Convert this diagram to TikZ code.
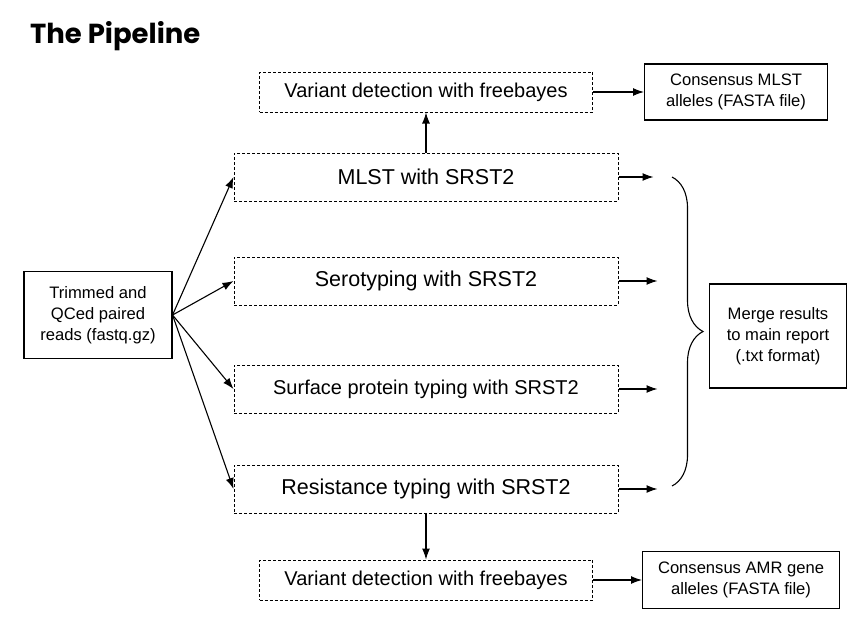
\documentclass[tikz,border=0pt]{standalone}
\usepackage{fontspec}
\setmainfont{Liberation Sans}
\newfontfamily\titlefont{Poppins}
\usetikzlibrary{positioning}
\usetikzlibrary{arrows.meta}
\usetikzlibrary{decorations.pathreplacing}

\tikzset{
  task/.style={draw, dashed, dash pattern=on 3pt off 2pt, line width=1pt,
    minimum width=384pt, minimum height=48pt, inner sep=0pt,
    font=\fontsize{21.5}{26}\selectfont},
  varcall/.style={task, minimum width=333pt, minimum height=40pt,
    font=\fontsize{20}{24}\selectfont},
  result/.style={draw, line width=1.1pt, align=center, inner sep=0pt,
    font=\fontsize{16.6}{21}\selectfont},
  arr/.style={-{Latex[length=11pt, width=8pt]}, line width=1.1pt},
}

\begin{document}
\begin{tikzpicture}[x=1pt, y=-1pt]

  \useasboundingbox (0,0) rectangle (867,627);

  % Title
  \node[anchor=base west, inner sep=0pt,
    font=\titlefont\bfseries\fontsize{27.5}{34}\selectfont] (title) at (30,43) {The Pipeline};

  % Define nodes
  \node[result, minimum width=148pt, minimum height=87pt] (reads) at (98,315)
    {Trimmed and\\QCed paired\\reads (fastq.gz)};
  \node[task] (mlst) at (426,177) {MLST with SRST2};
  \node[task, below=55pt of mlst] (sero) {Serotyping with SRST2};
  \node[task, below=59pt of sero, font=\fontsize{20}{24}\selectfont] (surf)
    {Surface protein typing with SRST2};
  \node[task, below=51pt of surf] (res) {Resistance typing with SRST2};
  \node[varcall, above=40pt of mlst] (vartop) {Variant detection with freebayes};
  \node[varcall, below=46pt of res] (varbot) {Variant detection with freebayes};
  \node[result, right=51pt of vartop, minimum width=183pt, minimum height=56pt] (mlstout)
    {Consensus MLST\\alleles (FASTA file)};
  \node[result, right=49pt of varbot, minimum width=197pt, minimum height=57pt] (amrout)
    {Consensus AMR gene\\alleles (FASTA file)};
  \node[result, minimum width=137pt, minimum height=104pt] (merge) at (778,336)
    {Merge results\\to main report\\(.txt format)};

  % Free ends and brace
  \coordinate[right=35pt of mlst.east] (mlstend);
  \coordinate[right=39pt of sero.east] (seroend);
  \coordinate[right=39pt of surf.east] (surfend);
  \coordinate[right=39pt of res.east] (resend);
  \coordinate (bracetop) at (672,177);
  \coordinate (bracebot) at (672,486);

  % Connect the nodes
  \draw[arr] (reads.east) -- (mlst.west);
  \draw[arr] (reads.east) -- (sero.west);
  \draw[arr] (reads.east) -- (surf.west);
  \draw[arr] (reads.east) -- (res.west);
  \draw[arr] (mlst.north) -- (vartop.south);
  \draw[arr] (res.south) -- (varbot.north);
  \draw[arr] (vartop.east) -- (mlstout.west);
  \draw[arr] (varbot.east) -- (amrout.west);
  \draw[arr] (mlst.east) -- (mlstend);
  \draw[arr] (sero.east) -- (seroend);
  \draw[arr] (surf.east) -- (surfend);
  \draw[arr] (res.east) -- (resend);
  \draw[decorate, decoration={brace, amplitude=31pt}, line width=1.1pt] (bracetop) -- (bracebot);

\end{tikzpicture}
\end{document}
